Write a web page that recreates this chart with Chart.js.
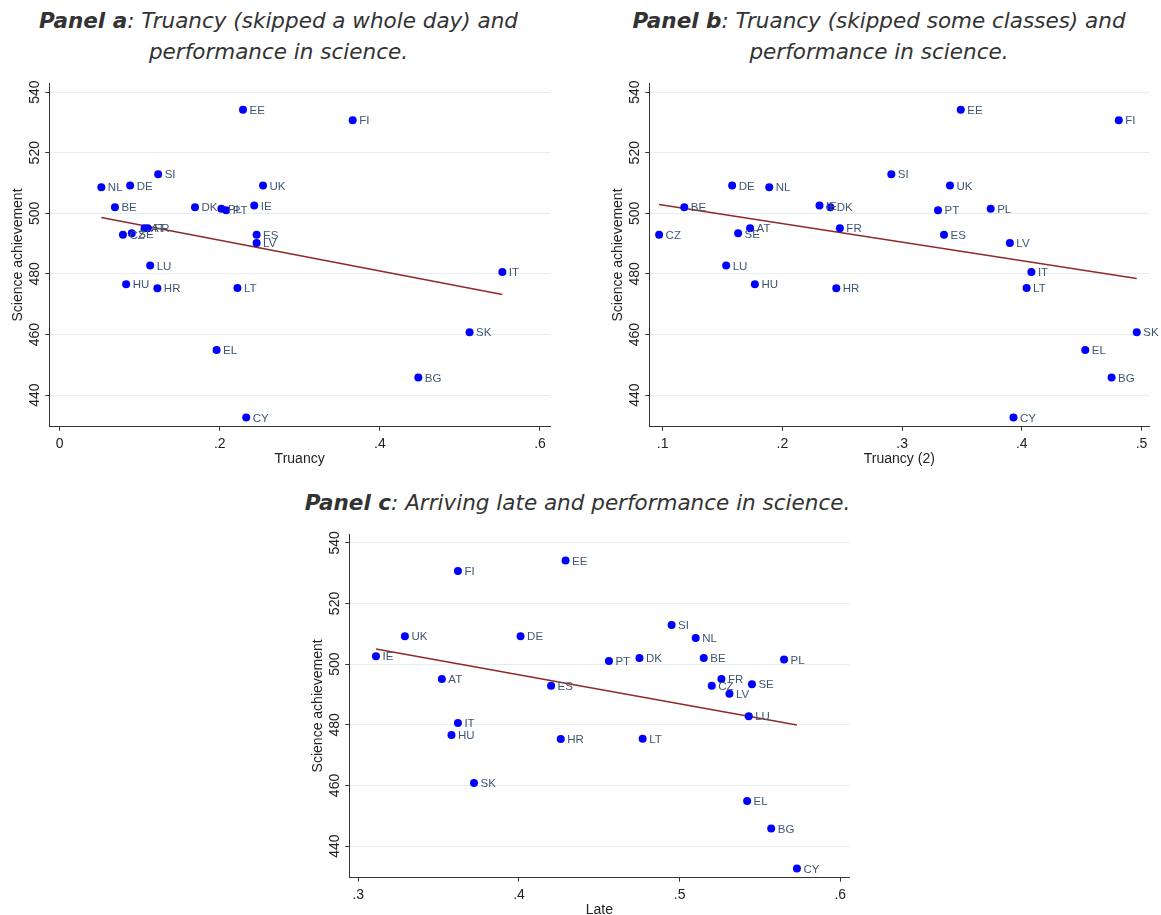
<!DOCTYPE html>
<html>
<head>
<meta charset="utf-8">
<script src="https://cdn.jsdelivr.net/npm/chart.js@4.4.1/dist/chart.umd.min.js"></script>
<style>
  html, body { margin: 0; padding: 0; background: #fff; overflow: hidden; }
  body { width: 1161px; height: 915px; position: relative; }
  .title {
    position: absolute; text-align: center; font-family: "DejaVu Sans", Verdana, sans-serif;
    font-size: 21.5px; line-height: 31px; font-style: italic; color: #333; white-space: nowrap;
  }
  .title b { font-weight: bold; }
  .box { position: absolute; }
</style>
</head>
<body>
<div class="title" style="left:28px;top:5px;width:501px;"><b>Panel a</b>: Truancy (skipped a whole day) and<br>performance in science.</div>
<div class="title" style="left:629px;top:5px;width:500px;"><b>Panel b</b>: Truancy (skipped some classes) and<br>performance in science.</div>
<div class="title" style="left:277px;top:487px;width:601px;"><b>Panel c</b>: Arriving late and performance in science.</div>

<div class="box" style="left:0;top:75px;width:560px;height:400px;"><canvas id="chartA"></canvas></div>
<div class="box" style="left:600px;top:75px;width:561px;height:400px;"><canvas id="chartB"></canvas></div>
<div class="box" style="left:300px;top:526px;width:560px;height:400px;"><canvas id="chartC"></canvas></div>

<script>
var countries = ['EE', 'FI', 'SI', 'NL', 'DE', 'UK', 'BE', 'DK', 'PL', 'PT', 'IE', 'ES', 'LV',
    'AT', 'FR', 'CZ', 'SE', 'LU', 'HU', 'HR', 'LT', 'IT', 'SK', 'EL', 'BG', 'CY'];

var science = [534.2, 530.7, 512.9, 508.6, 509.2, 509.2, 502.0, 502.0, 501.5, 501.0, 502.6, 492.9, 490.2,
    495.1, 495.1, 492.9, 493.4, 482.8, 476.6, 475.3, 475.4, 480.6, 460.8, 454.9, 445.8, 432.6];

// skipped a whole day
var truancy = [0.229, 0.366, 0.123, 0.052, 0.088, 0.254, 0.069, 0.169, 0.202, 0.208, 0.243, 0.246, 0.246,
    0.106, 0.110, 0.079, 0.090, 0.113, 0.083, 0.122, 0.222, 0.553, 0.512, 0.196, 0.448, 0.233];

// skipped some classes
var truancy2 = [0.349, 0.481, 0.291, 0.189, 0.158, 0.340, 0.118, 0.240, 0.374, 0.330, 0.231, 0.335, 0.390,
    0.173, 0.248, 0.097, 0.163, 0.153, 0.177, 0.245, 0.404, 0.408, 0.496, 0.453, 0.475, 0.393];

// arriving late
var late = [0.429, 0.362, 0.495, 0.510, 0.401, 0.329, 0.515, 0.475, 0.565, 0.456, 0.311, 0.420, 0.531,
    0.352, 0.526, 0.520, 0.545, 0.543, 0.358, 0.426, 0.477, 0.362, 0.372, 0.542, 0.557, 0.573];

// fitted lines (end points)
var fitAx = [0.052, 0.553], fitAy = [498.6, 473.2];
var fitBx = [0.097, 0.496], fitBy = [502.9, 478.5];
var fitCx = [0.311, 0.573], fitCy = [505.0, 479.9];

var yTicks = [440, 460, 480, 500, 520, 540];
var xTicksA = [0, 0.2, 0.4, 0.6], xLabelsA = ['0', '.2', '.4', '.6'];
var xTicksB = [0.1, 0.2, 0.3, 0.4, 0.5], xLabelsB = ['.1', '.2', '.3', '.4', '.5'];
var xTicksC = [0.3, 0.4, 0.5, 0.6], xLabelsC = ['.3', '.4', '.5', '.6'];

var pointLabels = {
    id: 'pointLabels',
    afterDatasetsDraw: function (chart) {
        var ctx = chart.ctx;
        var meta = chart.getDatasetMeta(0);
        ctx.save();
        ctx.font = '11.5px "Liberation Sans", Arial, sans-serif';
        ctx.fillStyle = '#3e5671';
        ctx.textBaseline = 'middle';
        ctx.textAlign = 'left';
        meta.data.forEach(function (pt, i) {
            ctx.fillText(countries[i], pt.x + 6.5, pt.y + 1);
        });
        ctx.restore();
    }
};

function makeChart(id, xs, fx, fy, xmin, xmax, ticks, labels, xTitle, padRight, padTop) {
    var pts = xs.map(function (v, i) { return {x: v, y: science[i]}; });
    var fit = fx.map(function (v, i) { return {x: v, y: fy[i]}; });
    var font = {family: '"Liberation Sans", Arial, sans-serif', size: 14};
    return new Chart(document.getElementById(id), {
        type: 'scatter',
        data: {
            datasets: [{
                data: pts,
                backgroundColor: '#0000ff',
                borderColor: '#0000ff',
                pointRadius: 4,
                pointBorderWidth: 0
            }, {
                type: 'line',
                data: fit,
                borderColor: '#8e2b2b',
                borderWidth: 1.5,
                pointRadius: 0,
                fill: false
            }]
        },
        options: {
            responsive: true,
            maintainAspectRatio: false,
            animation: false,
            layout: {padding: {top: padTop, right: padRight, left: 0, bottom: 0}},
            plugins: {legend: {display: false}, tooltip: {enabled: false}},
            scales: {
                x: {
                    type: 'linear',
                    min: xmin,
                    max: xmax,
                    afterBuildTicks: function (s) { s.ticks = ticks.map(function (v) { return {value: v}; }); },
                    afterFit: function (s) { s.height = 48.3; },
                    grid: {drawOnChartArea: false, tickLength: 4, tickColor: '#333'},
                    border: {color: '#333', width: 1},
                    ticks: {
                        font: font, color: '#222', padding: 5, maxRotation: 0,
                        callback: function (v, i) { return labels[i]; }
                    },
                    title: {display: true, text: xTitle, font: font, color: '#222', padding: {top: 0, bottom: 7.6}}
                },
                y: {
                    type: 'linear',
                    min: 429.6,
                    max: 542.9,
                    afterBuildTicks: function (s) { s.ticks = yTicks.map(function (v) { return {value: v}; }); },
                    afterFit: function (s) { s.width = 49.3; },
                    grid: {color: '#e4ecf0', lineWidth: 1, tickLength: 4, tickColor: '#333'},
                    border: {color: '#333', width: 1},
                    ticks: {
                        font: font, color: '#222', padding: -1.5, minRotation: 90, maxRotation: 90, crossAlign: 'center',
                        callback: function (v) { return String(v); }
                    },
                    title: {display: true, text: 'Science achievement', font: font, color: '#222', padding: {top: 9.6, bottom: 0}}
                }
            }
        },
        plugins: [pointLabels]
    });
}

makeChart('chartA', truancy, fitAx, fitAy, -0.013, 0.6125, xTicksA, xLabelsA, 'Truancy', 10, 8.3);
makeChart('chartB', truancy2, fitBx, fitBy, 0.0888, 0.5065, xTicksB, xLabelsB, 'Truancy (2)', 11.7, 8.3);
makeChart('chartC', late, fitCx, fitCy, 0.2944, 0.6056, xTicksC, xLabelsC, 'Late', 10.7, 8);
</script>
</body>
</html>
